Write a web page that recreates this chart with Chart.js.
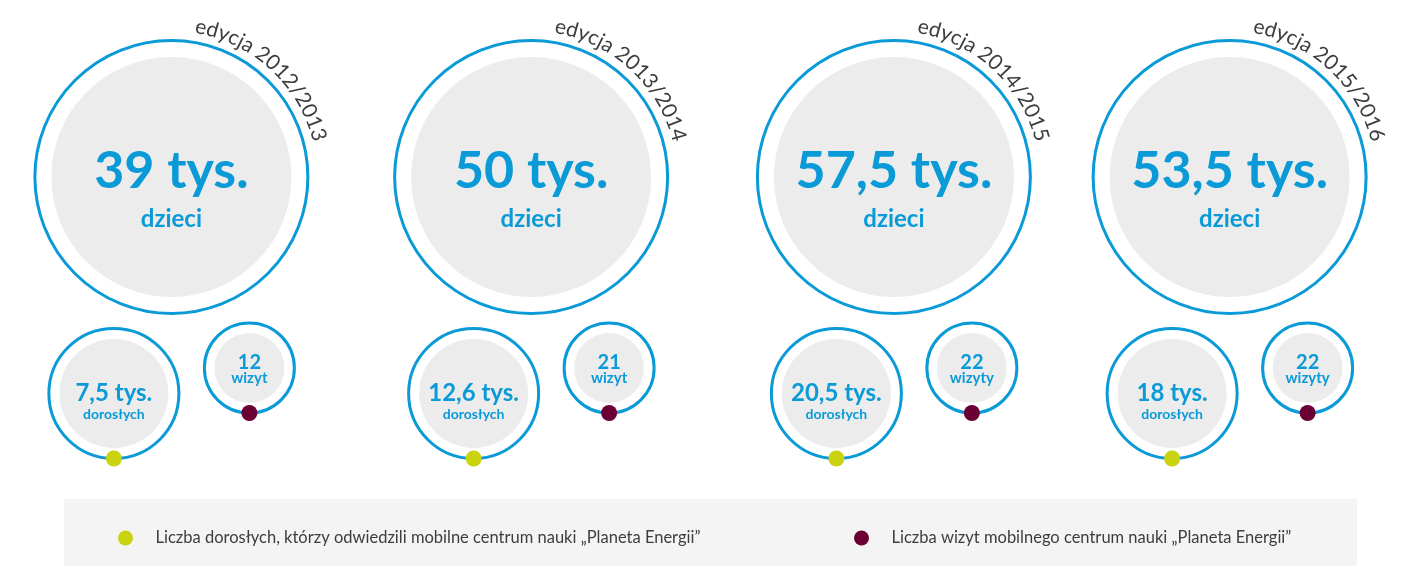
<!DOCTYPE html>
<html lang="pl">
<head>
<meta charset="utf-8">
<script src="https://cdn.jsdelivr.net/npm/chart.js@4.4.1/dist/chart.umd.min.js"></script>
<style>
    html, body { margin: 0; padding: 0; background: #fff; }
    #chart { display: block; }
</style>
</head>
<body>
<canvas id="chart" width="1411" height="566"></canvas>
<script>
// dane z infografiki
const EDITIONS = ['2012/2013', '2013/2014', '2014/2015', '2015/2016'];
const KIDS = [39, 50, 57.5, 53.5];        // tys. dzieci
const ADULTS = [7.5, 12.6, 20.5, 18];     // tys. dorosłych
const VISITS = [12, 21, 22, 22];          // liczba wizyt
const LEGEND_LABELS = [
    'Liczba dorosłych, którzy odwiedzili mobilne centrum nauki „Planeta Energii”',
    'Liczba wizyt mobilnego centrum nauki „Planeta Energii”'
];

// kolory
const BLUE = '#0a9ad7';
const FILL_GRAY = '#ececec';
const GREEN = '#c9d30f';
const MAROON = '#6b0035';
const TEXT_DARK = '#3d3d3d';
const LEGEND_BG = '#f4f4f4';

// układ (piksele)
const W = 1411;
const UNIT = W / 4;                        // szerokość kolumny na osi x
const COLUMN_NUDGE = [-5, 2, 12, -5];
const ROWS = {
    kids:   { y: 177,   dx: 0,     ring: 136.5, inner: 120 },
    adults: { y: 393.5, dx: -57.5, ring: 65,    inner: 54.5 },
    visits: { y: 368,   dx: 78,    ring: 45,    inner: 35 }
};

function fmt(v) {
    return String(v).replace('.', ',');
}

// odmiana: 12 wizyt, 22 wizyty
function visitWord(n) {
    const d = n % 10, t = n % 100;
    return (d >= 2 && d <= 4 && (t < 12 || t > 14)) ? 'wizyty' : 'wizyt';
}

function points(values, row) {
    const r = ROWS[row];
    return values.map((v, i) => ({
        x: i + (COLUMN_NUDGE[i] + r.dx) / UNIT,
        y: r.y,
        value: v
    }));
}

function ringDataset(label, values, row) {
    return {
        label: label,
        data: points(values, row),
        clip: false,
        pointRadius: ROWS[row].ring,
        pointHoverRadius: ROWS[row].ring,
        pointBorderWidth: 3,
        pointBorderColor: BLUE,
        pointBackgroundColor: '#fff',
        row: row
    };
}

// tekst po łuku
function drawArcText(ctx, text, cx, cy, r, startDeg) {
    ctx.save();
    ctx.font = '21px Lato';
    ctx.fillStyle = TEXT_DARK;
    ctx.textAlign = 'center';
    ctx.textBaseline = 'alphabetic';
    let a = startDeg * Math.PI / 180;
    for (const ch of text) {
        const w = ctx.measureText(ch).width;
        a += (w / 2) / r;
        ctx.save();
        ctx.translate(cx + r * Math.cos(a), cy + r * Math.sin(a));
        ctx.rotate(a + Math.PI / 2);
        ctx.fillText(ch, 0, 0);
        ctx.restore();
        a += (w / 2) / r;
    }
    ctx.restore();
}

function dot(ctx, x, y, r, color) {
    ctx.beginPath();
    ctx.arc(x, y, r, 0, Math.PI * 2);
    ctx.fillStyle = color;
    ctx.fill();
}

const circlesPlugin = {
    id: 'circles',
    afterDatasetsDraw(chart) {
        const ctx = chart.ctx;
        chart.data.datasets.forEach((ds, di) => {
            const meta = chart.getDatasetMeta(di);
            const row = ROWS[ds.row];
            meta.data.forEach((pt, i) => {
                const x = pt.x, y = pt.y;
                dot(ctx, x, y, row.inner, FILL_GRAY);
                ctx.save();
                ctx.fillStyle = BLUE;
                ctx.textAlign = 'center';
                ctx.textBaseline = 'alphabetic';
                const v = ds.data[i].value;
                if (ds.row === 'kids') {
                    ctx.font = 'bold 52px Lato';
                    ctx.fillText(fmt(v) + ' tys.', x, y + 11);
                    ctx.font = 'bold 24px Lato';
                    ctx.fillText('dzieci', x, y + 50);
                    ctx.restore();
                    drawArcText(ctx, 'edycja ' + EDITIONS[i], x, y, 146, -81);
                } else if (ds.row === 'adults') {
                    ctx.font = 'bold 24px Lato';
                    ctx.fillText(fmt(v) + ' tys.', x, y + 7);
                    ctx.font = 'bold 14px Lato';
                    ctx.fillText('dorosłych', x, y + 25);
                    ctx.restore();
                    dot(ctx, x, y + row.ring, 8, GREEN);
                } else {
                    ctx.font = 'bold 20px Lato';
                    ctx.fillText(fmt(v), x, y + 1);
                    ctx.font = 'bold 15px Lato';
                    ctx.fillText(visitWord(v), x, y + 15);
                    ctx.restore();
                    dot(ctx, x, y + row.ring, 8, MAROON);
                }
            });
        });
    },
    afterDraw(chart) {
        // legenda
        const ctx = chart.ctx;
        ctx.save();
        ctx.fillStyle = LEGEND_BG;
        ctx.fillRect(64, 499, 1293, 67);
        const items = [
            { x: 125.5, color: GREEN, text: LEGEND_LABELS[0] },
            { x: 861.5, color: MAROON, text: LEGEND_LABELS[1] }
        ];
        ctx.font = '16.5px Lato';
        ctx.textAlign = 'left';
        ctx.textBaseline = 'alphabetic';
        items.forEach(it => {
            dot(ctx, it.x, 538, 7.5, it.color);
            ctx.fillStyle = TEXT_DARK;
            ctx.fillText(it.text, it.x + 30, 543);
        });
        ctx.restore();
    }
};

const chart = new Chart(document.getElementById('chart'), {
    type: 'scatter',
    data: {
        datasets: [
            ringDataset('dzieci', KIDS, 'kids'),
            ringDataset('dorośli', ADULTS, 'adults'),
            ringDataset('wizyty', VISITS, 'visits')
        ]
    },
    options: {
        responsive: false,
        animation: false,
        events: [],
        layout: { padding: 0, autoPadding: false },
        plugins: {
            legend: { display: false },
            tooltip: { enabled: false },
            title: { display: false }
        },
        scales: {
            x: { type: 'linear', min: -0.5, max: 3.5, display: false },
            y: { type: 'linear', min: 0, max: 566, reverse: true, display: false }
        }
    },
    plugins: [circlesPlugin]
});
</script>
</body>
</html>
